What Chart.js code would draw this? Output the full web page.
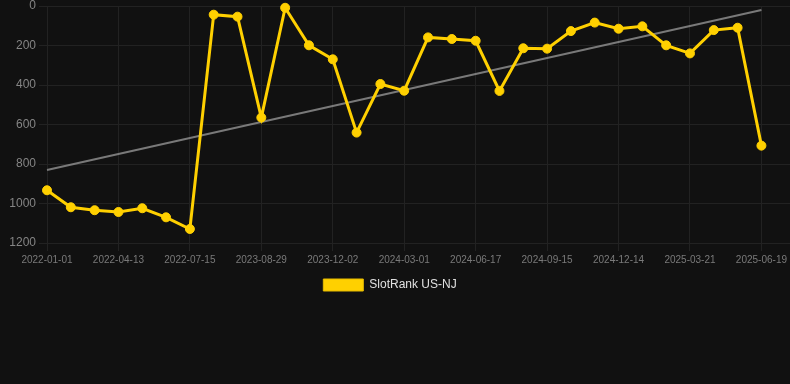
<!DOCTYPE html>
<html>
<head>
<meta charset="utf-8">
<script src="https://cdn.jsdelivr.net/npm/chart.js@4.4.1/dist/chart.umd.min.js"></script>
<style>
  html, body { margin: 0; padding: 0; background: #111111; }
  #wrap { width: 790px; height: 301px; }
</style>
</head>
<body>
<div id="wrap"><canvas id="c" width="790" height="301"></canvas></div>
<script>
const dates = [
  "2022-01-01","2022-02-04","2022-03-10","2022-04-13","2022-05-14","2022-06-14",
  "2022-07-15","2023-06-30","2023-07-30","2023-08-29","2023-09-30","2023-10-31",
  "2023-12-02","2023-12-31","2024-01-30","2024-03-01","2024-04-06","2024-05-12",
  "2024-06-17","2024-07-17","2024-08-16","2024-09-15","2024-10-15","2024-11-14",
  "2024-12-14","2025-01-15","2025-02-17","2025-03-21","2025-04-20","2025-05-20",
  "2025-06-19"
];
const rankValues = [
  933, 1019, 1034, 1043, 1024, 1070, 1129, 44, 54, 565, 9, 199, 270, 641, 395, 429,
  159, 167, 176, 430, 214, 216, 127, 84, 115, 103, 199, 240, 122, 110, 707
];
const trendStart = 830;
const trendEnd = 20;
const tickIndices = [0, 3, 6, 9, 12, 15, 18, 21, 24, 27, 30];
const yTicks = [0, 200, 400, 600, 800, 1000, 1200];

const rankPoints = rankValues.map((v, i) => ({ x: i, y: v }));
const trendPoints = [{ x: 0, y: trendStart }, { x: dates.length - 1, y: trendEnd }];

const FONT = '"Liberation Sans", Arial, Helvetica, sans-serif';
const YELLOW = '#FFD000';

const legendShift = {
  id: 'legendShift',
  afterLayout(chart) {
    const lg = chart.legend;
    if (lg) { lg.left -= 5; lg.right -= 5; }
  }
};

new Chart(document.getElementById('c'), {
  type: 'line',
  data: {
    datasets: [
      {
        label: 'SlotRank US-NJ',
        data: rankPoints,
        borderColor: YELLOW,
        backgroundColor: YELLOW,
        borderWidth: 3,
        pointRadius: 4.5,
        pointBorderWidth: 1,
        pointBackgroundColor: YELLOW,
        pointBorderColor: YELLOW,
        tension: 0,
        clip: false
      },
      {
        label: 'trend',
        data: trendPoints,
        borderColor: 'rgba(140,140,140,0.85)',
        backgroundColor: 'rgba(140,140,140,0.85)',
        borderWidth: 2,
        pointRadius: 0,
        tension: 0,
        clip: false
      }
    ]
  },
  plugins: [legendShift],
  options: {
    responsive: false,
    animation: false,
    layout: { autoPadding: false, padding: { left: 0, right: 0, top: 0, bottom: 0 } },
    scales: {
      x: {
        type: 'linear',
        min: 0,
        max: 31.2,
        afterBuildTicks: (scale) => { scale.ticks = tickIndices.map(v => ({ value: v })); },
        afterFit: (scale) => { scale.paddingLeft = 0; scale.paddingRight = 0; },
        grid: { color: '#222222', tickLength: 8 },
        border: { color: '#222222' },
        ticks: {
          autoSkip: false,
          maxRotation: 0,
          color: '#7a7a7a',
          font: { family: FONT, size: 10 },
          callback: (v) => dates[v] ?? ''
        }
      },
      y: {
        reverse: true,
        min: 0,
        max: 1200,
        afterBuildTicks: (scale) => { scale.ticks = yTicks.map(v => ({ value: v })); },
        afterFit: (scale) => { scale.width = 47; scale.paddingTop = 6; scale.paddingBottom = 0; },
        grid: { color: '#222222', tickLength: 8 },
        border: { color: '#222222' },
        ticks: {
          color: '#858585',
          font: { family: FONT, size: 12 },
          callback: (v) => String(v)
        }
      }
    },
    plugins: {
      legend: {
        position: 'bottom',
        labels: {
          color: '#e0e0e0',
          font: { family: FONT, size: 12 },
          boxWidth: 40,
          filter: (item) => item.datasetIndex === 0,
          generateLabels: (chart) =>
            Chart.defaults.plugins.legend.labels.generateLabels(chart)
              .map(it => Object.assign(it, { lineWidth: 1, strokeStyle: '#e6bb00' }))
        }
      },
      tooltip: { enabled: false }
    }
  }
});
</script>
</body>
</html>
